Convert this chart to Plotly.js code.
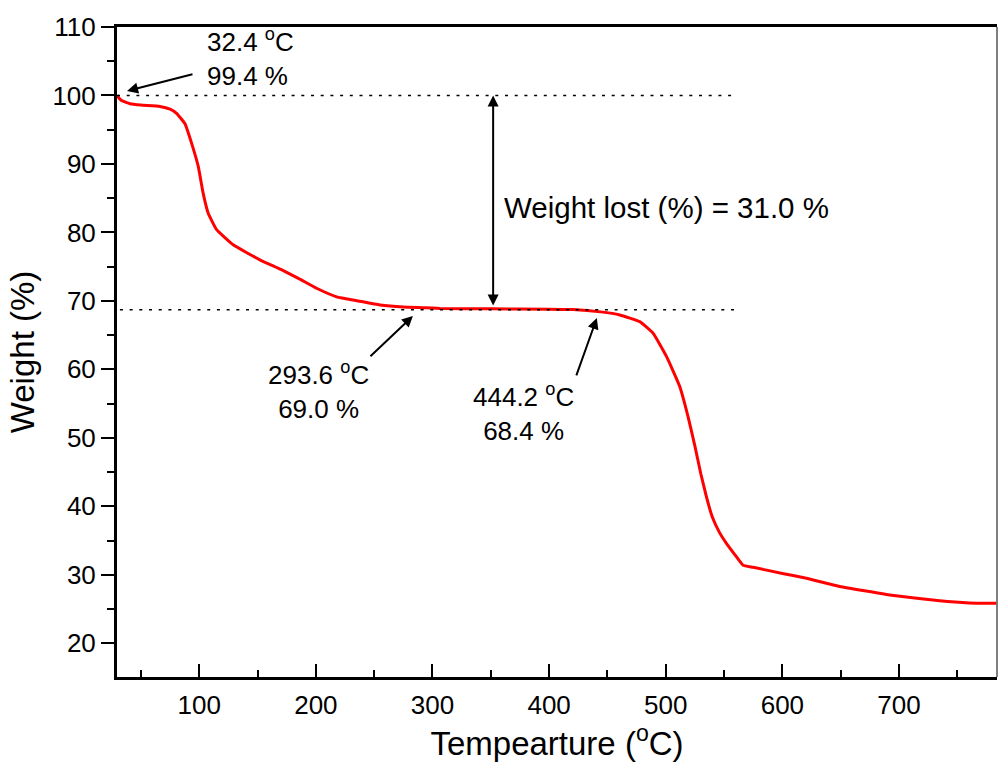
<!DOCTYPE html>
<html>
<head>
<meta charset="utf-8">
<script src="https://cdn.plot.ly/plotly-3.0.1.min.js"></script>
<style>html,body{margin:0;padding:0;background:#fff;}#chart{width:998px;height:765px;}</style>
</head>
<body>
<div id="chart"></div>
<script>
// Temperature (°C)
const temperature = [29.5, 33, 40.6, 50, 66.3, 75, 80.6, 87.7, 93.5, 99.2, 103.4, 107.7, 114.9, 129.1, 152, 170, 185, 200.6, 217.8, 236.3, 255, 275, 293.6, 306.5, 350, 400, 420.6, 444.2, 460.6, 477.7, 489.1, 500.6, 512, 519.1, 525, 530, 535, 540, 546, 552, 559, 566.3, 574.9, 600, 620.6, 649.2, 692, 734.9, 760, 783.5];
// Weight (%)
const weight = [100.0, 99.3, 98.8, 98.6, 98.4, 98.0, 97.4, 95.9, 93.0, 89.6, 85.7, 82.8, 80.4, 78.2, 76.0, 74.6, 73.3, 71.85, 70.6, 70.0, 69.4, 69.1, 69.0, 68.9, 68.85, 68.8, 68.75, 68.4, 67.95, 66.97, 65.3, 61.9, 57.5, 53.1, 48.8, 44.8, 41.3, 38.4, 36.2, 34.6, 33.0, 31.4, 31.1, 30.2, 29.5, 28.3, 27.06, 26.2, 25.9, 25.85];

const xTickVals = [100, 200, 300, 400, 500, 600, 700];
const yTickVals = [20, 30, 40, 50, 60, 70, 80, 90, 100, 110];

// reference levels
const upperLevel = 100;
const lowerLevel = 68.7;
const levelStart = 29.5;
const levelEnd = 557;
const lossArrowX = 352;

// point labels
const labelTexts = ["32.4 <sup>o</sup>C<br>99.4 %", "293.6 <sup>o</sup>C<br>69.0 %", "444.2 <sup>o</sup>C<br>68.4 %"];
const labelX = [104.9, 202.6, 378.3];
const labelY = [105.6, 56.85, 53.7];
const labelAnchor = ["left", "center", "center"];
const arrowHeadX = [38.1, 283.2, 440.9];
const arrowHeadY = [100.67, 67.8, 67.5];
const arrowTailX = [95.5, 245.5, 422.9];
const arrowTailY = [103.15, 61.7, 58.9];
const lossText = "Weight lost (%) = 31.0 %";

const FONT = "Arial, 'Liberation Sans', sans-serif";

const trace = {
  x: temperature, y: weight, type: 'scatter', mode: 'lines',
  line: {color: '#ff0000', width: 3, shape: 'spline', smoothing: 0.35},
  hoverinfo: 'skip', showlegend: false
};

const annotations = [];
for (let i = 0; i < labelTexts.length; i++) {
  annotations.push({
    x: labelX[i], y: labelY[i], xref: 'x', yref: 'y', text: labelTexts[i],
    showarrow: false, xanchor: labelAnchor[i], yanchor: 'middle', align: labelAnchor[i] === 'left' ? 'left' : 'center',
    font: {family: FONT, size: 26, color: '#000'}
  });
  annotations.push({
    x: arrowHeadX[i], y: arrowHeadY[i], ax: arrowTailX[i], ay: arrowTailY[i],
    xref: 'x', yref: 'y', axref: 'x', ayref: 'y', text: '', showarrow: true,
    arrowhead: 2, arrowsize: 1.1, arrowwidth: 2, arrowcolor: '#000', standoff: 0, startstandoff: 0
  });
}
annotations.push({
  x: lossArrowX, y: upperLevel, ax: lossArrowX, ay: lowerLevel + 0.4,
  xref: 'x', yref: 'y', axref: 'x', ayref: 'y', text: '', showarrow: true,
  arrowhead: 2, startarrowhead: 2, arrowside: 'end+start', arrowsize: 1.1, startarrowsize: 1.1,
  arrowwidth: 2, arrowcolor: '#000', standoff: 0, startstandoff: 0
});
annotations.push({
  x: lossArrowX + 7.5, y: 83.6, xref: 'x', yref: 'y', text: lossText, showarrow: false,
  xanchor: 'left', yanchor: 'middle', font: {family: FONT, size: 29.5, color: '#000'}
});

const shapes = [
  {type: 'line', xref: 'x', yref: 'y', x0: levelStart, x1: levelEnd, y0: upperLevel, y1: upperLevel,
   line: {color: '#000', width: 1.5, dash: '3px,6.7px'}},
  {type: 'line', xref: 'x', yref: 'y', x0: levelStart + 2.5, x1: levelEnd + 3, y0: lowerLevel, y1: lowerLevel,
   line: {color: '#000', width: 1.5, dash: '3px,6.7px'}},
  {type: 'line', xref: 'paper', yref: 'paper', x0: 1, x1: 1, y0: 0, y1: 1,
   line: {color: '#555', width: 1.5}}
];

const layout = {
  width: 998, height: 765,
  margin: {l: 117, r: 1, t: 27, b: 88, pad: 0},
  paper_bgcolor: '#fff', plot_bgcolor: '#fff',
  font: {family: FONT, color: '#000'},
  showlegend: false,
  xaxis: {
    range: [29.5, 784], tickvals: xTickVals, ticks: 'inside', ticklen: 13, tickwidth: 2, tickcolor: '#000',
    minor: {dtick: 50, tick0: 0, ticks: 'inside', ticklen: 7, tickwidth: 2, tickcolor: '#000'},
    showline: true, linewidth: 3, linecolor: '#000', mirror: true, showgrid: false, zeroline: false,
    tickfont: {family: FONT, size: 26, color: '#000'}, ticklabelstandoff: 3,
    title: {text: 'Tempearture (<sup>o</sup>C)', font: {family: FONT, size: 33, color: '#000'}, standoff: 10}
  },
  yaxis: {
    range: [15.08, 110], tickvals: yTickVals, ticks: 'outside', ticklen: 13, tickwidth: 2, tickcolor: '#000',
    minor: {dtick: 5, tick0: 0, ticks: 'outside', ticklen: 7, tickwidth: 2, tickcolor: '#000'},
    showline: true, linewidth: 3, linecolor: '#000', mirror: false, showgrid: false, zeroline: false,
    tickfont: {family: FONT, size: 26, color: '#000'},
    title: {text: 'Weight (%)', font: {family: FONT, size: 33, color: '#000'}, standoff: 8}
  },
  annotations: annotations,
  shapes: shapes
};

Plotly.newPlot('chart', [trace], layout, {staticPlot: true, displayModeBar: false});
</script>
</body>
</html>
